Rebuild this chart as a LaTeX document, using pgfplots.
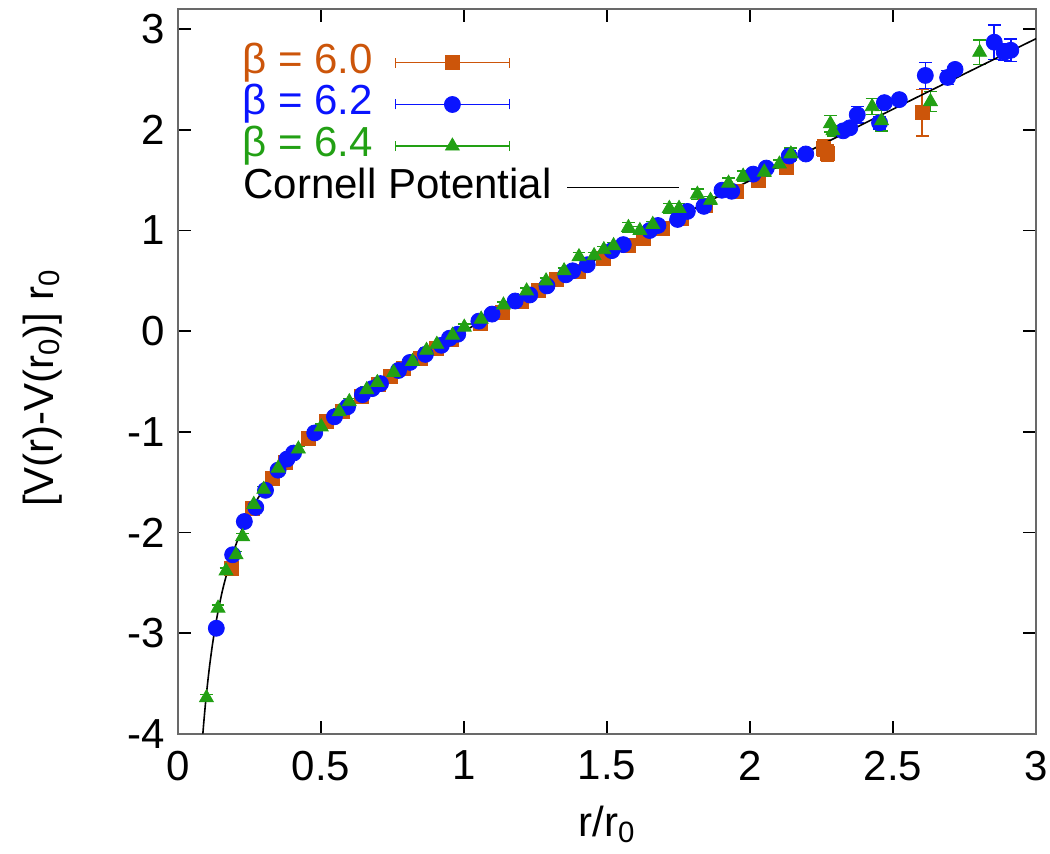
\documentclass[border=0pt]{standalone}
\usepackage{pgfplots}
\pgfplotsset{compat=1.18}
\usepackage{pgfplotstable}
\usepackage{fontspec}
\setmainfont{Liberation Sans}
\usetikzlibrary{calc}
\definecolor{cOrange}{RGB}{204,85,10}
\definecolor{cBlue}{RGB}{10,20,255}
\definecolor{cGreen}{RGB}{34,160,20}
\definecolor{frameGray}{RGB}{105,105,105}

\pgfplotstableread{
x y e
0.186 -2.36 0.03
0.260 -1.76 0.03
0.330 -1.46 0.03
0.375 -1.30 0.03
0.456 -1.06 0.02
0.520 -0.90 0.02
0.575 -0.80 0.02
0.640 -0.65 0.02
0.700 -0.53 0.02
0.742 -0.45 0.02
0.788 -0.37 0.02
0.846 -0.27 0.02
0.903 -0.17 0.02
0.955 -0.08 0.02
1.058 0.08 0.02
1.133 0.19 0.02
1.200 0.30 0.02
1.259 0.41 0.02
1.322 0.51 0.02
1.400 0.59 0.02
1.489 0.72 0.03
1.575 0.85 0.03
1.626 0.92 0.03
1.695 1.02 0.03
1.760 1.12 0.03
1.844 1.25 0.03
1.953 1.39 0.03
2.030 1.50 0.04
2.126 1.63 0.04
2.258 1.82 0.08
2.272 1.77 0.08
2.602 2.17 0.23
}\orangedata

\pgfplotstableread{
x y e
0.134 -2.95 0.03
0.191 -2.22 0.03
0.232 -1.89 0.03
0.272 -1.75 0.03
0.306 -1.58 0.03
0.350 -1.38 0.02
0.381 -1.27 0.02
0.404 -1.21 0.02
0.478 -1.01 0.02
0.547 -0.85 0.02
0.593 -0.75 0.02
0.645 -0.63 0.02
0.679 -0.57 0.02
0.708 -0.52 0.02
0.771 -0.39 0.02
0.811 -0.31 0.02
0.865 -0.23 0.02
0.921 -0.14 0.02
0.949 -0.07 0.02
0.978 -0.03 0.02
1.052 0.10 0.02
1.098 0.17 0.02
1.179 0.30 0.02
1.230 0.36 0.02
1.290 0.45 0.02
1.356 0.56 0.02
1.380 0.60 0.02
1.431 0.66 0.02
1.517 0.80 0.02
1.557 0.86 0.02
1.649 1.00 0.03
1.678 1.05 0.03
1.747 1.11 0.03
1.781 1.19 0.03
1.839 1.24 0.03
1.902 1.40 0.03
1.936 1.39 0.03
2.011 1.56 0.03
2.057 1.62 0.03
2.137 1.74 0.05
2.195 1.76 0.03
2.326 1.99 0.04
2.349 2.02 0.04
2.375 2.15 0.08
2.453 2.07 0.06
2.470 2.27 0.05
2.522 2.30 0.05
2.613 2.54 0.13
2.691 2.52 0.07
2.717 2.60 0.06
2.854 2.87 0.17
2.889 2.77 0.08
2.912 2.79 0.11
}\bluedata

\pgfplotstableread{
x y e
0.0995 -3.64 0.03
0.140 -2.75 0.03
0.168 -2.38 0.03
0.203 -2.22 0.03
0.226 -2.04 0.03
0.265 -1.72 0.03
0.300 -1.57 0.03
0.350 -1.36 0.03
0.421 -1.17 0.03
0.501 -0.95 0.03
0.564 -0.80 0.03
0.599 -0.70 0.03
0.660 -0.58 0.03
0.697 -0.51 0.03
0.754 -0.41 0.03
0.820 -0.30 0.03
0.869 -0.19 0.03
0.905 -0.13 0.03
0.960 -0.04 0.03
1.001 0.04 0.03
1.060 0.12 0.03
1.138 0.26 0.03
1.219 0.40 0.03
1.287 0.50 0.03
1.350 0.60 0.03
1.402 0.74 0.04
1.455 0.75 0.03
1.489 0.81 0.03
1.523 0.85 0.03
1.575 1.03 0.05
1.615 1.00 0.04
1.660 1.06 0.03
1.718 1.22 0.05
1.752 1.22 0.05
1.816 1.36 0.05
1.862 1.30 0.04
1.925 1.47 0.05
1.976 1.54 0.05
2.050 1.58 0.04
2.103 1.66 0.04
2.143 1.76 0.06
2.281 2.06 0.08
2.290 1.99 0.05
2.427 2.23 0.08
2.460 2.09 0.10
2.631 2.28 0.10
2.803 2.77 0.12
}\greendata

\pgfplotstableread{
x y
0.087 -3.996
0.090 -3.891
0.095 -3.731
0.100 -3.587
0.110 -3.335
0.120 -3.122
0.130 -2.941
0.140 -2.783
0.150 -2.645
0.160 -2.522
0.180 -2.313
0.200 -2.140
0.220 -1.994
0.250 -1.810
0.280 -1.657
0.320 -1.485
0.360 -1.339
0.400 -1.212
0.450 -1.071
0.500 -0.945
0.550 -0.829
0.600 -0.721
0.700 -0.522
0.800 -0.339
0.900 -0.166
1.000 0.000
1.100 0.160
1.200 0.317
1.300 0.470
1.400 0.621
1.500 0.770
1.600 0.917
1.700 1.063
1.800 1.209
1.900 1.353
2.000 1.496
2.200 1.781
2.400 2.064
2.600 2.346
2.800 2.626
3.000 2.905
}\cornell

\pgfplotsset{
  ebleg/.style={legend image code/.code={
    \draw[##1, sharp plot, mark=none, line width=0.6pt] (0pt,0pt) -- (57pt,0pt);
    \draw[##1, sharp plot, mark=none, line width=0.6pt] (0pt,-2.5pt) -- (0pt,2.5pt) (57pt,-2.5pt) -- (57pt,2.5pt);
    \draw[##1, only marks] plot coordinates {(28.5pt,0pt)};
  }},
}

\begin{document}
\begin{tikzpicture}
\begin{axis}[
  scale only axis, width=429pt, height=362.5pt,
  xmin=0, xmax=3, ymin=-4, ymax=3.2,
  xtick={0,0.5,1,1.5,2,2.5,3}, xticklabels={0,0.5,1,1.5,2,2.5,3},
  ytick={-4,-3,-2,-1,0,1,2,3}, yticklabels={-4,-3,-2,-1,0,1,2,3},
  tick align=inside, major tick length=6.5pt,
  tick style={black, line width=0.8pt},
  axis line style={frameGray, line width=1.3pt},
  ticklabel style={font=\fontsize{21}{25}\selectfont},
  yticklabel style={xshift=-3pt},
  xticklabel style={yshift=-5pt},
  label style={font=\fontsize{21}{25}\selectfont},
  xlabel={r/r\textsubscript{0}},
  ylabel={[V(r)-V(r\textsubscript{0})] r\textsubscript{0}},
  xlabel style={at={(axis description cs:0.5,-0.125)}, anchor=center},
  ylabel style={at={(axis description cs:-0.158,0.477)}, anchor=center},
  legend cell align=left, legend plot pos=right,
  legend style={at={(axis description cs:0.0676,0.960)}, anchor=north west,
    draw=none, fill=none, font=\fontsize{21}{25}\selectfont,
    row sep=0.3pt, column sep=11pt,
    nodes={inner sep=0pt, text height=15.5pt, text depth=5pt}},
]
\addplot[only marks, mark=square*, color=cOrange, mark size=3.5pt, ebleg,
  error bars/y dir=both, error bars/y explicit,
  error bars/error bar style={line width=0.75pt, cOrange},
  error bars/error mark options={rotate=90, cOrange, mark size=3.2pt, line width=0.75pt}]
  table[x=x, y=y, y error=e] {\orangedata};
\addlegendentry{\textcolor{cOrange}{β = 6.0}}
\addplot[only marks, mark=*, color=cBlue, mark size=4pt, ebleg,
  error bars/y dir=both, error bars/y explicit,
  error bars/error bar style={line width=0.75pt, cBlue},
  error bars/error mark options={rotate=90, cBlue, mark size=3.2pt, line width=0.75pt}]
  table[x=x, y=y, y error=e] {\bluedata};
\addlegendentry{\textcolor{cBlue}{β = 6.2}}
\addplot[only marks, mark=triangle*, color=cGreen, mark size=4pt, ebleg,
  error bars/y dir=both, error bars/y explicit,
  error bars/error bar style={line width=0.75pt, cGreen},
  error bars/error mark options={rotate=90, cGreen, mark size=3.2pt, line width=0.75pt}]
  table[x=x, y=y, y error=e] {\greendata};
\addlegendentry{\textcolor{cGreen}{β = 6.4}}
\addplot[black, line width=0.8pt, no marks, smooth,
  legend image code/.code={\draw[black, line width=0.8pt] (86pt,0pt) -- (142pt,0pt);}]
  table[x=x, y=y] {\cornell};
\addlegendentry{\rlap{Cornell Potential}}
\end{axis}
\pgfresetboundingbox
\path[use as bounding box] ($(current axis.south west)+(-89pt,-60pt)$) rectangle ($(current axis.north east)+(7pt,4.5pt)$);
\end{tikzpicture}
\end{document}
